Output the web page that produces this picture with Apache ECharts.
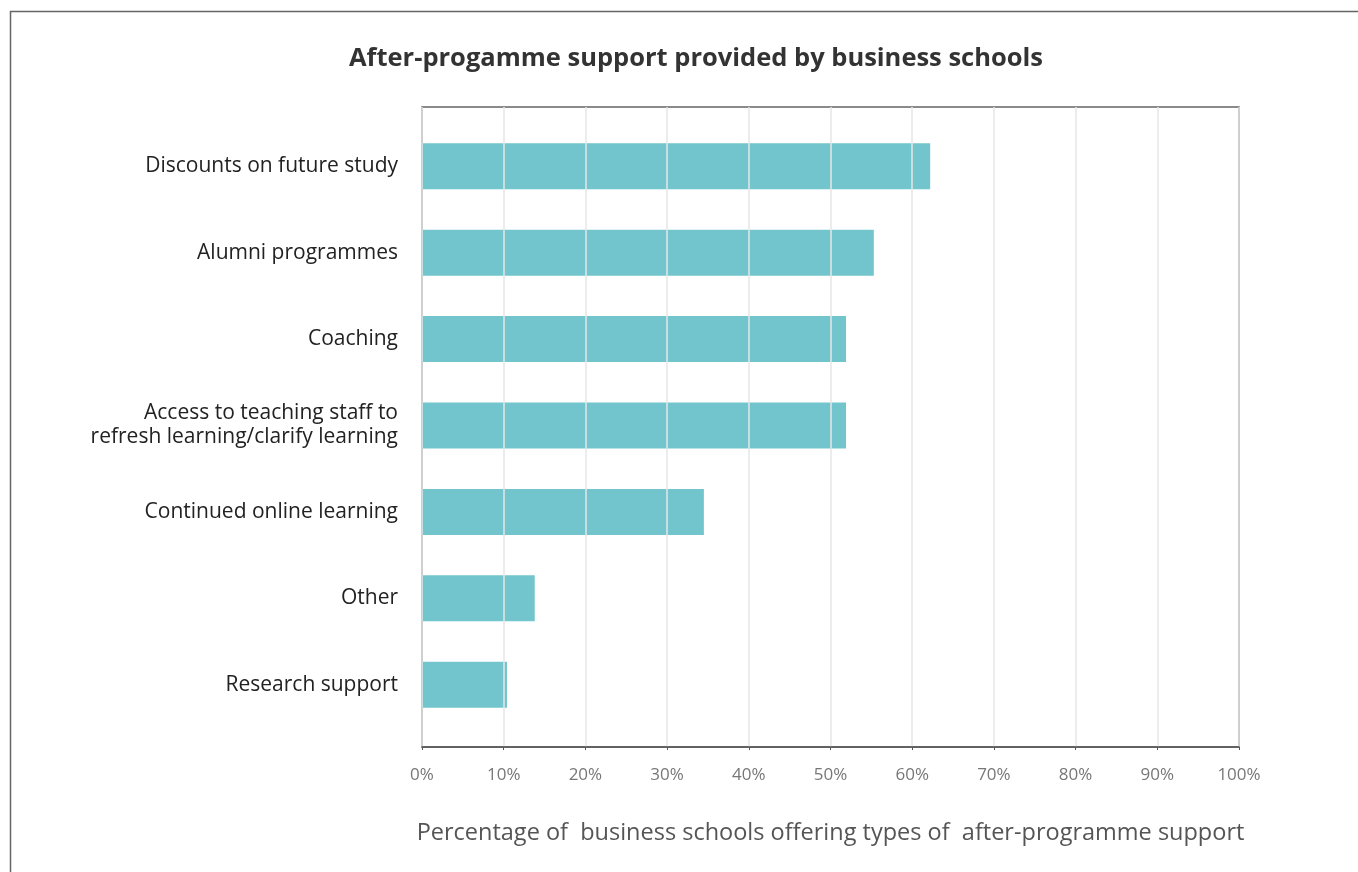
<!DOCTYPE html>
<html>
<head>
<meta charset="utf-8">
<script src="https://cdn.jsdelivr.net/npm/echarts@6/dist/echarts.min.js"></script>
<style>html,body{margin:0;padding:0;background:#fff;}#chart{width:1358px;height:872px;}</style>
</head>
<body>
<div id="chart"></div>
<script>
const categories = [
  'Discounts on future study',
  'Alumni programmes',
  'Coaching',
  'Access to teaching staff to\nrefresh learning/clarify learning',
  'Continued online learning',
  'Other',
  'Research support'
];
const values = [62.2, 55.3, 51.9, 51.9, 34.5, 13.8, 10.4];
const xTicks = [0, 10, 20, 30, 40, 50, 60, 70, 80, 90, 100];

const chart = echarts.init(document.getElementById('chart'), null, {renderer: 'canvas'});
chart.setOption({
  backgroundColor: '#fff',
  animation: false,
  title: {
    text: 'After-progamme support provided by business schools',
    left: 691, top: 41, textAlign: 'center',
    textStyle: {fontFamily: 'Open Sans', fontWeight: 'bold', fontSize: 25.5, color: '#333'}
  },
  graphic: [{
    type: 'polyline', silent: true,
    shape: {points: [[10.5, 900], [10.5, 11.5], [1400, 11.5]]},
    style: {stroke: '#666', lineWidth: 1.5, fill: null}
  }],
  grid: [
    {left: 422, right: 119, top: 107, bottom: 125, show: true, borderColor: '#666', borderWidth: 1.5, backgroundColor: 'transparent'},
    {left: 422, right: 119, top: 123, height: 605}
  ],
  xAxis: [{
    gridIndex: 0, type: 'value', min: 0, max: 100, interval: 10, z: 5,
    axisLine: {show: true, lineStyle: {color: '#555', width: 1.5}},
    axisTick: {show: true, length: 3, lineStyle: {color: '#555'}},
    splitLine: {show: true, lineStyle: {color: '#e6e6e6', width: 1.5}},
    axisLabel: {formatter: v => xTicks.includes(v) ? v + '%' : '', margin: 20, fontFamily: 'Open Sans', fontSize: 17, color: '#777'},
    name: 'Percentage of  business schools offering types of  after-programme support',
    nameLocation: 'middle', nameGap: 74,
    nameTextStyle: {fontFamily: 'Open Sans', fontSize: 23.5, color: '#555'}
  }, {
    gridIndex: 1, type: 'value', min: 0, max: 100, show: false
  }],
  yAxis: [{
    gridIndex: 0, type: 'value', min: 0, max: 1, show: false
  }, {
    gridIndex: 1, type: 'category', inverse: true, data: categories,
    axisLine: {show: false}, axisTick: {show: false},
    axisLabel: {margin: 24, fontFamily: 'Open Sans', fontSize: 21, color: '#222', lineHeight: 24, align: 'right'}
  }],
  series: [{
    type: 'bar', xAxisIndex: 1, yAxisIndex: 1, data: values, barWidth: 46, z: 2,
    itemStyle: {color: '#72C5CC'}
  }]
});
</script>
</body>
</html>
